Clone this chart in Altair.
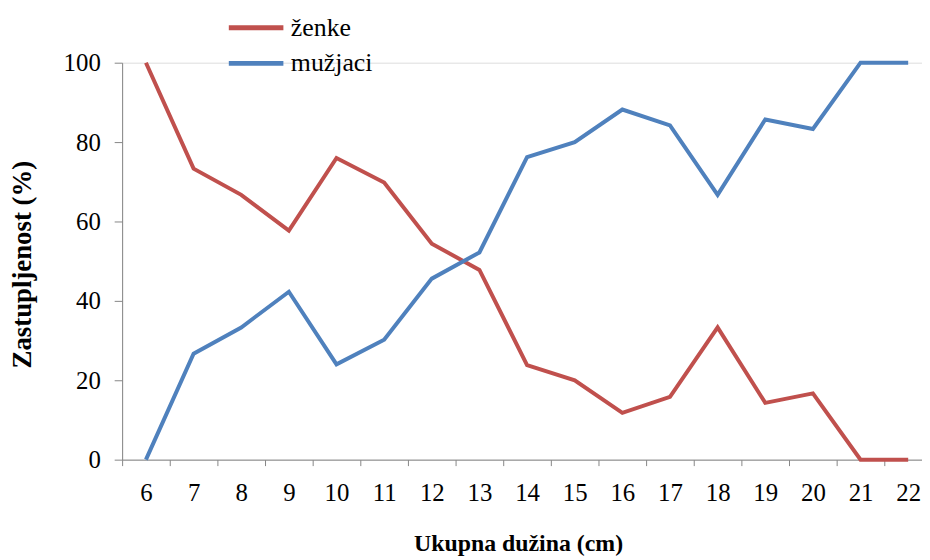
import altair as alt
import pandas as pd

# data
lengths = list(range(6, 23))
zenke = [100, 73.3, 66.7, 57.7, 76.0, 69.8, 54.4, 47.8, 23.8, 20.0, 11.8, 15.8, 33.3, 14.3, 16.7, 0, 0]
muzjaci = [0, 26.7, 33.3, 42.3, 24.0, 30.2, 45.6, 52.2, 76.2, 80.0, 88.2, 84.2, 66.7, 85.7, 83.3, 100, 100]
series = ["ženke", "mužjaci"]
colors = ["#C0504D", "#4F81BD"]
y_ticks = [0, 20, 40, 60, 80, 100]

rows = []
for name, vals in zip(series, [zenke, muzjaci]):
    for x, v in zip(lengths, vals):
        rows.append({"duzina": x, "udio": v, "pol": name})
df = pd.DataFrame(rows)

# axis positions: category centres (labels) and category boundaries (ticks)
x_axis_values = []
for c in lengths:
    x_axis_values.append(c - 0.5)
    x_axis_values.append(c)

FONT = "Times New Roman, Liberation Serif, serif"
AXIS_COLOR = "#868686"

chart = alt.Chart(df).mark_line(strokeWidth=4, strokeCap="butt").encode(
    x=alt.X(
        "duzina:Q",
        scale=alt.Scale(domain=[5.5, 22.29], nice=False, zero=False),
        axis=alt.Axis(
            values=x_axis_values,
            title="Ukupna dužina (cm)",
            labelExpr="datum.value % 1 === 0 ? format(datum.value, 'd') : ''",
            tickColor={"condition": {"test": "datum.value % 1 !== 0", "value": AXIS_COLOR}, "value": "transparent"},
            tickSize=6,
            labelPadding=15,
            labelFontSize=25,
            labelFont=FONT,
            labelColor="black",
            labelOverlap=False,
            labelFlush=False,
            labelBound=False,
            labelBaseline="top",
            domainColor=AXIS_COLOR,
            domainWidth=1,
            grid=False,
            titleFont=FONT,
            titleFontSize=24,
            titleFontWeight="bold",
            titleColor="black",
            titleX=399,
            titleY=85,
            titleAlign="center",
            titleBaseline="middle",
        ),
    ),
    y=alt.Y(
        "udio:Q",
        scale=alt.Scale(domain=[0, 100], nice=False),
        axis=alt.Axis(
            values=y_ticks,
            title="Zastupljenost (%)",
            tickSize=8,
            tickColor=AXIS_COLOR,
            domainColor=AXIS_COLOR,
            labelPadding=14,
            labelFontSize=25,
            labelFont=FONT,
            labelColor="black",
            grid=False,
            titleFont=FONT,
            titleFontSize=27,
            titleFontWeight="bold",
            titleColor="black",
            titleAngle=-90,
            titleX=-100,
            titleY=203,
            titleAlign="center",
            titleBaseline="middle",
        ),
    ),
    color=alt.Color(
        "pol:N",
        scale=alt.Scale(domain=series, range=colors),
        sort=series,
        legend=alt.Legend(
            title=None,
            orient="none",
            legendX=105,
            legendY=-53.3,
            direction="vertical",
            symbolType="stroke",
            symbolSize=3025,
            symbolStrokeWidth=5,
            clipHeight=36,
            rowPadding=0,
            padding=0,
            labelOffset=5,
            labelFont=FONT,
            labelFontSize=26,
            labelColor="black",
        ),
    ),
    detail="pol:N",
).properties(
    width=806,
    height=400,
    autosize=alt.AutoSizeParams(type="none"),
    padding={"left": 115, "top": 53, "right": 0, "bottom": 99},
).configure_view(stroke=None).configure(background="white")

chart.save("out.html", embed_options={"renderer": "svg", "actions": False})
